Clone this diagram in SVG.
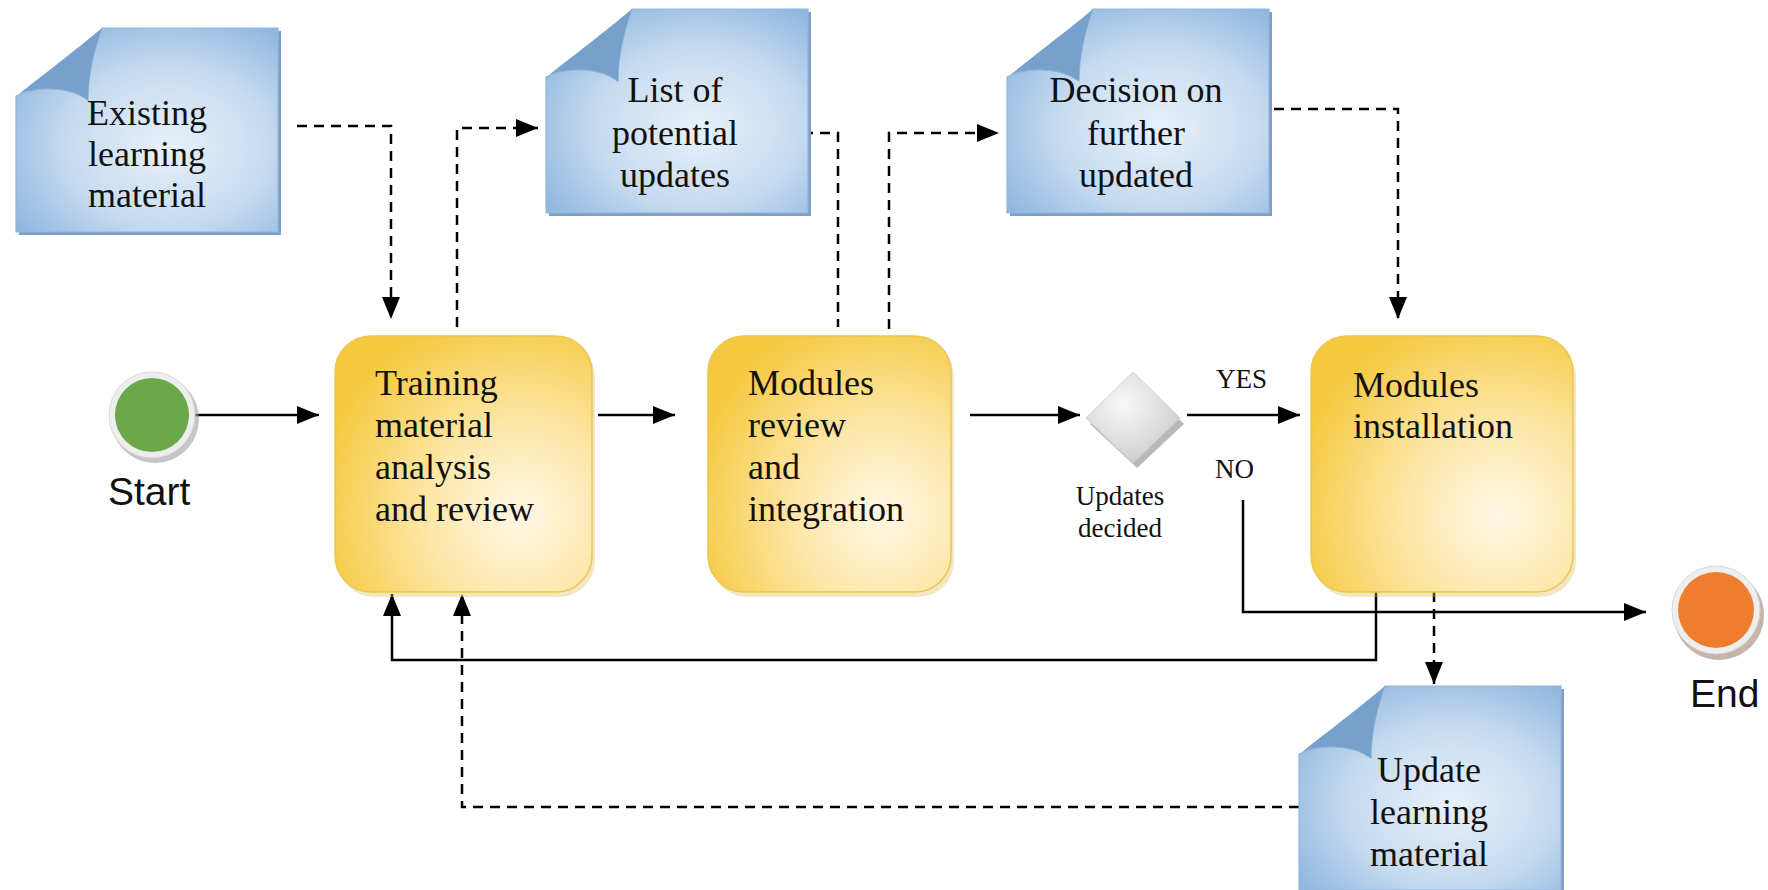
<svg xmlns="http://www.w3.org/2000/svg" width="1768" height="890" viewBox="0 0 1768 890">
<defs>
  <style>
    .doctext { font-family: "Liberation Serif", "Times New Roman", serif; font-size: 36px; fill: #111; text-anchor: middle; }
    .boxtext { font-family: "Liberation Serif", "Times New Roman", serif; font-size: 36px; fill: #111; }
    .small { font-family: "Liberation Serif", "Times New Roman", serif; font-size: 27px; fill: #111; text-anchor: middle; }
    .lbl { font-family: "Liberation Serif", "Times New Roman", serif; font-size: 27px; fill: #111; }
    .sans { font-family: "Liberation Sans", Arial, sans-serif; font-size: 39px; fill: #111; }
    .solid { fill: none; stroke: #000; stroke-width: 2.5; }
    .dash { fill: none; stroke: #000; stroke-width: 2.5; stroke-dasharray: 10 7; }
    .task { fill: url(#yellow); stroke: #ecc552; stroke-width: 1.5; }
    .taskshadow { fill: #d9b85a; opacity: 0.35; }
  </style>
  <radialGradient id="blue" cx="58%" cy="58%" r="70%">
    <stop offset="0" stop-color="#e8f1fa"/>
    <stop offset="0.55" stop-color="#c6dbf0"/>
    <stop offset="1" stop-color="#8fb6df"/>
  </radialGradient>
  <radialGradient id="yellow" cx="72%" cy="70%" r="80%">
    <stop offset="0" stop-color="#fff7e6"/>
    <stop offset="0.45" stop-color="#fde7a8"/>
    <stop offset="1" stop-color="#f5c93f"/>
  </radialGradient>
  <radialGradient id="gray" cx="40%" cy="35%" r="75%">
    <stop offset="0" stop-color="#f8f8f8"/>
    <stop offset="1" stop-color="#c9c9c9"/>
  </radialGradient>
  <marker id="arr" markerUnits="userSpaceOnUse" markerWidth="24" markerHeight="20" viewBox="0 0 24 20" refX="22" refY="10" orient="auto">
    <path d="M0,1 L22,10 L0,19 Z" fill="#000"/>
  </marker>
  <g id="doc">
    <path d="M89,3 H265 V207 H3 V71 Z" fill="#7f9fc2"/>
    <path d="M86,0 H262 V204 H0 V68 C20,58 52,58 72,72 C72,46 78,22 86,0 Z" fill="url(#blue)" stroke="#93b5da" stroke-width="1.2"/>
    <path d="M86,0 C60,22 28,46 3,66 C28,56 54,58 72,72 C72,46 78,22 86,0 Z" fill="#77a1cd"/>
  </g>
</defs>
<rect width="1768" height="890" fill="#fff"/>

<g id="connectors">
  <path class="solid" d="M195,415 H319" marker-end="url(#arr)"/>
  <path class="solid" d="M598,415 H675" marker-end="url(#arr)"/>
  <path class="solid" d="M970,415 H1080" marker-end="url(#arr)"/>
  <path class="solid" d="M1187,415 H1300" marker-end="url(#arr)"/>
  <path class="solid" d="M1243,500 V612 H1646" marker-end="url(#arr)"/>
  <path class="solid" d="M1376,584 V660 H392 V594" marker-end="url(#arr)"/>
  <path class="dash" d="M1299,807 H462 V594" marker-end="url(#arr)"/>
  <path class="dash" d="M1434,575 V684" marker-end="url(#arr)"/>
  <path class="dash" d="M297,126 H391 V319" marker-end="url(#arr)"/>
  <path class="dash" d="M457,327 V128 H538" marker-end="url(#arr)"/>
  <path class="dash" d="M803,133 H838 V327"/>
  <path class="dash" d="M889,329 V133 H999" marker-end="url(#arr)"/>
  <path class="dash" d="M1274,109 H1398 V319" marker-end="url(#arr)"/>
  <text class="lbl" x="1216" y="388">YES</text>
  <text class="lbl" x="1215" y="478">NO</text>
</g>

<g id="start">
  <circle cx="155" cy="419" r="44" fill="#9e9e9e" opacity="0.6"/>
  <circle cx="152" cy="415" r="43" fill="#eeeeee" stroke="#d8d8d8" stroke-width="1"/>
  <circle cx="152" cy="415" r="37" fill="#6aa84a"/>
  <text class="sans" x="108" y="505">Start</text>
</g>

<g id="end">
  <circle cx="1719" cy="615" r="45" fill="#a08070" opacity="0.6"/>
  <circle cx="1716" cy="610" r="44" fill="#eeeeee" stroke="#d8d8d8" stroke-width="1"/>
  <circle cx="1716" cy="610" r="38" fill="#ee7d2e"/>
  <text class="sans" x="1690" y="707">End</text>
</g>

<g id="existing">
  <use href="#doc" x="16" y="28"/>
  <text class="doctext" x="147" y="125">Existing</text>
  <text class="doctext" x="147" y="166">learning</text>
  <text class="doctext" x="147" y="207">material</text>
</g>

<g id="list">
  <use href="#doc" x="546" y="9"/>
  <text class="doctext" x="675" y="102">List of</text>
  <text class="doctext" x="675" y="145">potential</text>
  <text class="doctext" x="675" y="187">updates</text>
</g>

<g id="decision">
  <use href="#doc" x="1007" y="9"/>
  <text class="doctext" x="1136" y="102">Decision on</text>
  <text class="doctext" x="1136" y="145">further</text>
  <text class="doctext" x="1136" y="187">updated</text>
</g>

<g id="update">
  <use href="#doc" x="1299" y="686"/>
  <text class="doctext" x="1429" y="782">Update</text>
  <text class="doctext" x="1429" y="824">learning</text>
  <text class="doctext" x="1429" y="866">material</text>
</g>

<g id="training">
  <rect class="taskshadow" x="338" y="341" width="257" height="256" rx="36"/>
  <rect class="task" x="335" y="336" width="257" height="256" rx="36"/>
  <text class="boxtext" x="375" y="395">Training</text>
  <text class="boxtext" x="375" y="437">material</text>
  <text class="boxtext" x="375" y="479">analysis</text>
  <text class="boxtext" x="375" y="521">and review</text>
</g>

<g id="review">
  <rect class="taskshadow" x="711" y="341" width="243" height="256" rx="36"/>
  <rect class="task" x="708" y="336" width="243" height="256" rx="36"/>
  <text class="boxtext" x="748" y="395">Modules</text>
  <text class="boxtext" x="748" y="437">review</text>
  <text class="boxtext" x="748" y="479">and</text>
  <text class="boxtext" x="748" y="521">integration</text>
</g>

<g id="gateway">
  <path d="M1137,378 L1184,424 L1137,468 L1090,424 Z" fill="#b8b8b8"/>
  <path d="M1133,372 L1180,418 L1133,463 L1086,418 Z" fill="url(#gray)" stroke="#d0d0d0" stroke-width="1"/>
  <text class="small" x="1120" y="505">Updates</text>
  <text class="small" x="1120" y="537">decided</text>
</g>

<g id="install">
  <rect class="taskshadow" x="1314" y="341" width="262" height="256" rx="36"/>
  <rect class="task" x="1311" y="336" width="262" height="256" rx="36"/>
  <text class="boxtext" x="1353" y="397">Modules</text>
  <text class="boxtext" x="1353" y="438">installation</text>
</g>
</svg>
